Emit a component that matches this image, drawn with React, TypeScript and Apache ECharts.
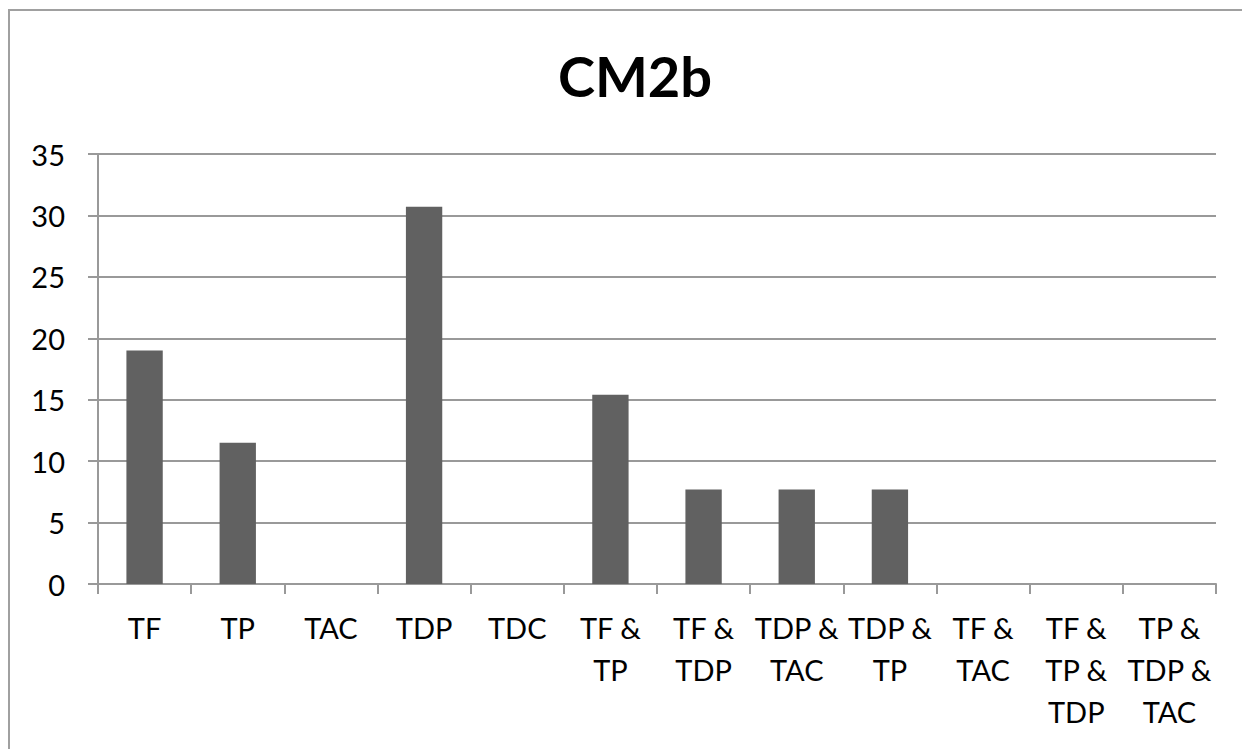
import React, { useEffect, useRef } from "react";
import * as echarts from "echarts";

const title = "CM2b";
const categories = [
  "TF",
  "TP",
  "TAC",
  "TDP",
  "TDC",
  "TF & TP",
  "TF & TDP",
  "TDP & TAC",
  "TDP & TP",
  "TF & TAC",
  "TF & TP & TDP",
  "TP & TDP & TAC",
];
const values = [19.0, 11.5, 0, 30.7, 0, 15.4, 7.7, 7.7, 7.7, 0, 0, 0];
const yMin = 0;
const yMax = 35;
const yInterval = 5;

const FONT = "Lato, 'Open Sans', sans-serif";

export default function App() {
  const ref = useRef<HTMLDivElement>(null);
  useEffect(() => {
    if (!ref.current) return;
    const chart = echarts.init(ref.current, null, { renderer: "svg" });
    chart.setOption({
      animation: false,
      backgroundColor: "#ffffff",
      title: {
        text: title,
        left: 630,
        top: 42,
        textAlign: "center",
        textStyle: {
          fontFamily: FONT,
          fontSize: 56,
          fontWeight: "bold",
          color: "#000000",
        },
      },
      graphic: [
        {
          type: "polyline",
          shape: { points: [[9, 800], [9, 10], [1300, 10]] },
          style: { fill: "none", stroke: "#a0a0a0", lineWidth: 2 },
          silent: true,
        },
      ],
      grid: {
        left: 98,
        right: 26,
        top: 154,
        bottom: 165,
        containLabel: false,
        outerBoundsMode: "none",
      },
      xAxis: {
        type: "category",
        data: categories,
        boundaryGap: true,
        axisLine: { show: true, lineStyle: { color: "#999999", width: 2 } },
        axisTick: {
          show: true,
          alignWithLabel: false,
          length: 10,
          lineStyle: { color: "#999999", width: 2 },
        },
        axisLabel: {
          interval: 0,
          margin: 22,
          fontFamily: FONT,
          fontSize: 29,
          lineHeight: 42,
          color: "#000000",
          formatter: (v: string) => v.replace(/& /g, "&\n"),
        },
      },
      yAxis: {
        type: "value",
        min: yMin,
        max: yMax,
        interval: yInterval,
        axisLine: { show: true, lineStyle: { color: "#999999", width: 2 } },
        axisTick: {
          show: true,
          length: 10,
          lineStyle: { color: "#999999", width: 2 },
        },
        splitLine: { show: true, lineStyle: { color: "#999999", width: 2 } },
        axisLabel: {
          margin: 33,
          fontFamily: FONT,
          fontSize: 29,
          color: "#000000",
        },
      },
      series: [
        {
          type: "bar",
          data: values,
          barWidth: "39%",
          itemStyle: { color: "#616161" },
        },
      ],
    });
    return () => chart.dispose();
  }, []);
  return (
    <div
      ref={ref}
      style={{ position: "absolute", left: 0, top: 0, width: 1242, height: 749 }}
    />
  );
}
